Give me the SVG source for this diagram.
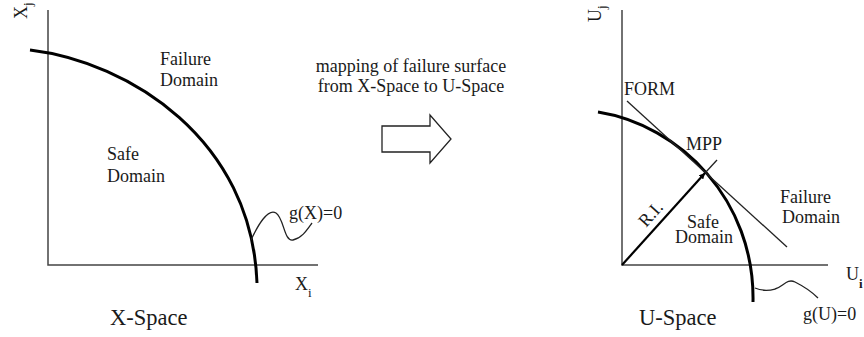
<svg xmlns="http://www.w3.org/2000/svg" width="864" height="337" viewBox="0 0 864 337">
<style>
text{font-family:"Liberation Serif","Times New Roman",serif;fill:#1a1a1a;font-size:18px}
.big{font-size:22.5px}
.axis{stroke:#444;stroke-width:1.5;fill:none}
.curve{stroke:#000;stroke-width:3;fill:none}
.thin{stroke:#222;stroke-width:1.3;fill:none}
.sub{font-size:13px}
</style>
<defs>
<marker id="ah" viewBox="0 0 10 10" refX="10" refY="5" markerWidth="6" markerHeight="6" markerUnits="userSpaceOnUse" orient="auto">
<path d="M0,0 L10,5 L0,10 z" fill="#000"/>
</marker>
</defs>
<rect width="864" height="337" fill="#fff"/>

<g id="x-space">
<path class="axis" d="M48,10 V265 H318"/>
<path class="curve" d="M30,50 C130,62 252,140 257,283"/>
<path class="thin" d="M251,240 C258,225 268,208 276,213 C284,218 284,242 293,240 C302,238 307,230 312,223"/>
<text transform="translate(27,19) rotate(-90)">X<tspan class="sub" dy="5">j</tspan></text>
<text x="160" y="65">Failure</text>
<text x="160" y="86">Domain</text>
<text x="107" y="160">Safe</text>
<text x="107" y="182">Domain</text>
<text x="289" y="219">g(X)=0</text>
<text x="295" y="290">X<tspan class="sub" dy="7">i</tspan></text>
<text class="big" x="110" y="325">X-Space</text>
</g>

<g id="mapping">
<text x="411" y="72" text-anchor="middle">mapping of failure surface</text>
<text x="411" y="92" text-anchor="middle">from X-Space to U-Space</text>
<polygon points="382,126 430,126 430,115 451,139 430,163 430,152 382,152" fill="#fff" stroke="#222" stroke-width="1.3"/>
</g>

<g id="u-space">
<path class="axis" d="M622,10 V265 H828"/>
<path class="curve" d="M598,112 C680,125 755,200 753,302"/>
<path class="thin" d="M627,101 L787,247"/>
<path class="thin" d="M705,173 L717,160"/>
<path class="thin" d="M755,288 C762,291 768,291 775,289 C783,287 787,278 795,282 C803,286 812,292 818,298"/>
<text transform="translate(601,22) rotate(-90)">U<tspan class="sub" dy="5">j</tspan></text>
<text x="624" y="95">FORM</text>
<text x="686" y="150">MPP</text>
<text transform="translate(655,218) rotate(-48)" text-anchor="middle">R.I.</text>
<text x="687" y="228">Safe</text>
<text x="675" y="243">Domain</text>
<text x="780" y="203">Failure</text>
<text x="782" y="223">Domain</text>
<text x="846" y="280">U<tspan class="sub" dy="8" font-weight="bold">i</tspan></text>
<text x="803" y="320">g(U)=0</text>
<text class="big" x="639" y="325">U-Space</text>
</g>

<g id="connectors">
<path d="M622,265 L705,173" stroke="#000" stroke-width="2.2" fill="none" marker-end="url(#ah)"/>
</g>
</svg>
